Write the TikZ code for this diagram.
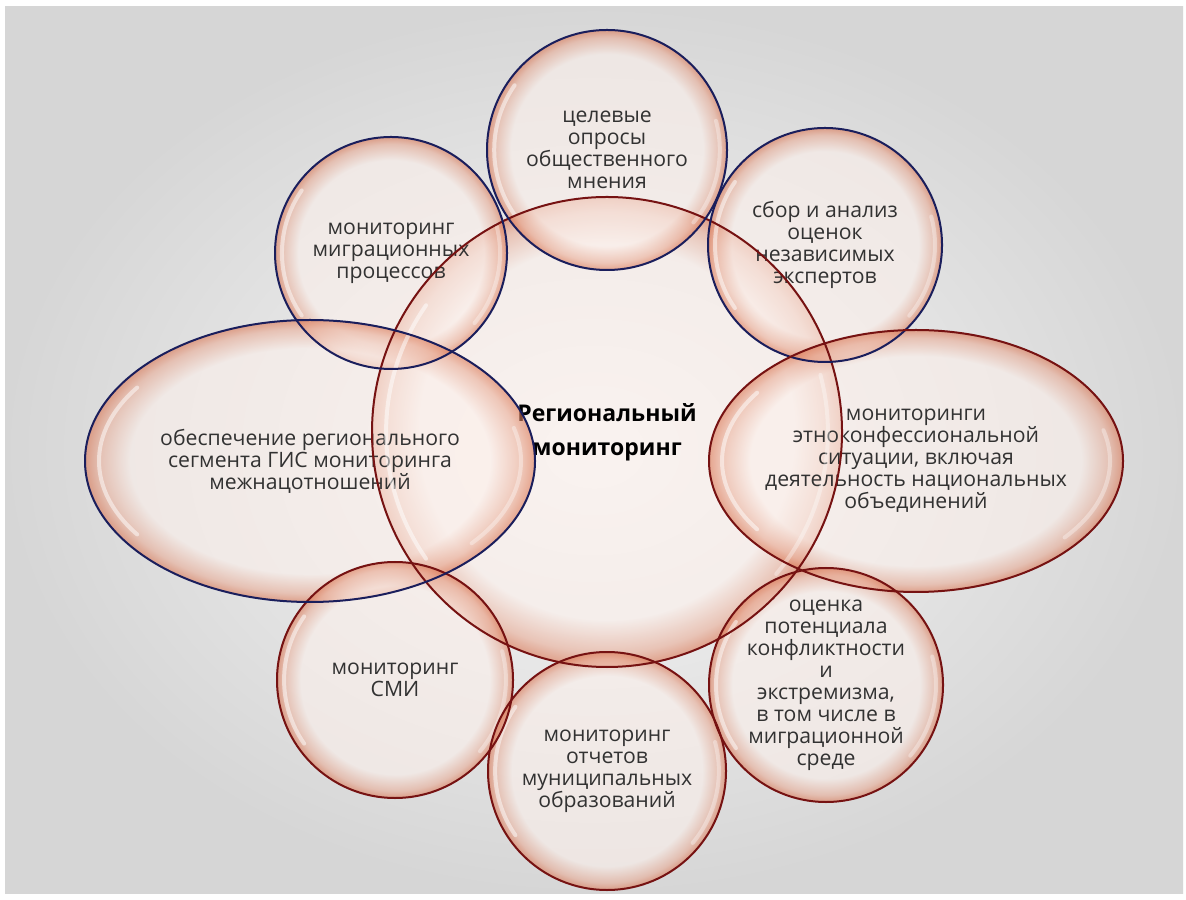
\documentclass[tikz,border=0pt]{standalone}
\usepackage{fontspec}
\setmainfont{Open Sans}
\usepackage{tikz}
\usetikzlibrary{shapes.geometric}
\definecolor{bubin}{RGB}{252,240,235}
\definecolor{bubout}{RGB}{218,116,80}
\definecolor{rimblue}{RGB}{26,30,92}
\definecolor{rimred}{RGB}{118,18,18}
\definecolor{txt}{RGB}{50,50,50}
\pgfdeclareradialshading{bubble}{\pgfpoint{0bp}{0bp}}{color(0bp)=(bubin); color(20bp)=(bubin); color(23.5bp)=(bubout!55!bubin); color(25bp)=(bubout); color(50bp)=(bubout)}

\begin{document}
\begin{tikzpicture}[x=0.5pt,y=0.5pt,
  bubble/.style={circle,inner sep=0pt,shading=bubble,fill opacity=0.6,text opacity=1,align=center,text=txt,font=\fontsize{10.6}{11}\selectfont},
  oval/.style={bubble,ellipse},
  rim/.style={line width=1pt},
  gloss/.style={white,line width=2pt,line cap=round,opacity=0.5}]
\fill[white] (0,0) rectangle (1186,899);
\shade[inner color=gray!6,outer color=gray!32] (5,6) rectangle (1183,892);
\node[bubble,minimum size=235pt,font=\fontsize{11.5}{17}\selectfont\bfseries,text=black] (mid) at (607,467) {Региональный\\мониторинг};
\node[bubble,minimum size=120pt] (opros) at (607,749) {целевые\\опросы\\общественного\\мнения};
\node[bubble,minimum size=116pt] (migr) at (391,646) {мониторинг\\миграционных\\процессов};
\node[bubble,minimum size=117pt] (expert) at (825,654) {сбор и анализ\\оценок\\независимых\\экспертов};
\node[oval,inner xsep=-8pt,minimum width=225pt,minimum height=141pt] (gis) at (310,438) {обеспечение регионального\\сегмента ГИС мониторинга\\межнацотношений};
\node[oval,inner xsep=-8pt,minimum width=207pt,minimum height=131pt] (etno) at (916,438) {мониторинги\\этноконфессиональной\\ситуации, включая\\деятельность национальных\\объединений};
\node[bubble,minimum size=118pt] (smi) at (395,219) {мониторинг\\СМИ};
\node[bubble,minimum size=119pt] (mun) at (607,128) {мониторинг\\отчетов\\муниципальных\\образований};
\node[bubble,minimum size=117pt] (konf) at (826,214) {оценка\\потенциала\\конфликтности\\и\\экстремизма,\\в том числе в\\миграционной\\среде};
\foreach \n/\r in {mid/235,opros/120,migr/116,expert/117,smi/118,mun/119,konf/117}{
  \draw[gloss] (\n) ++(145:0.94*\r) arc[start angle=145,end angle=215,radius=0.94*\r];
  \draw[gloss,opacity=0.35] (\n) ++(-40:0.94*\r) arc[start angle=-40,end angle=15,radius=0.94*\r];
}
\draw[gloss] (gis) ++(145:211 and 128) arc[start angle=145,end angle=215,x radius=211,y radius=128];
\draw[gloss,opacity=0.35] (gis) ++(-40:211 and 128) arc[start angle=-40,end angle=15,x radius=211,y radius=128];
\draw[gloss] (etno) ++(145:194 and 119) arc[start angle=145,end angle=215,x radius=194,y radius=119];
\draw[gloss,opacity=0.35] (etno) ++(-40:194 and 119) arc[start angle=-40,end angle=15,x radius=194,y radius=119];
\foreach \n/\r in {mid/235,smi/118,mun/119,konf/117}
  \draw[rim,rimred] (\n) circle (\r);
\foreach \n/\r in {opros/120,migr/116,expert/117}
  \draw[rim,rimblue] (\n) circle (\r);
\draw[rim,rimblue] (gis) ellipse (225 and 141);
\draw[rim,rimred] (etno) ellipse (207 and 131);
\end{tikzpicture}
\end{document}
